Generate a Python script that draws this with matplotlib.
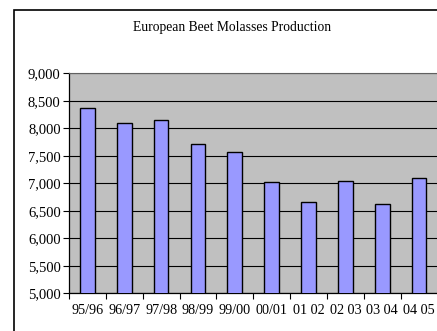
import numpy as np
import matplotlib.pyplot as plt
from matplotlib.patches import Rectangle

seasons = ["95/96", "96/97", "97/98", "98/99", "99/00",
           "00/01", "01 02", "02 03", "03 04", "04 05"]
production = [8375, 8090, 8150, 7720, 7565, 7020, 6665, 7040, 6620, 7100]

plt.rcParams["font.family"] = ["Liberation Serif", "DejaVu Serif"]

fig = plt.figure(figsize=(4.37, 3.31), dpi=100)
fig.patch.set_facecolor("white")

# chart border (runs off the right and bottom)
fig.add_artist(Rectangle((14 / 437, -0.1), 1.2, (331 - 10) / 331 + 0.1,
                         transform=fig.transFigure, fill=False,
                         edgecolor="black", lw=1.2, clip_on=False))

ax = fig.add_axes([69 / 437, (331 - 293.3) / 331,
                   (437.5 - 69) / 437, (293.3 - 73.3) / 331])
ax.set_facecolor("#c0c0c0")

x = np.arange(len(seasons))
ax.bar(x, production, width=0.4, color="#9999ff", edgecolor="black",
       linewidth=1.0, zorder=3)

ax.set_ylim(5000, 9000)
ax.set_xlim(-0.5, len(seasons) - 0.5)
ax.set_yticks(np.arange(5000, 9001, 500))
ax.set_yticklabels([f"{v:,}" for v in range(5000, 9001, 500)], fontsize=10.5)
ax.yaxis.grid(True, color="black", lw=0.8, zorder=1)

# ticks sit between categories, labels under the bars
ax.set_xticks(np.arange(-0.5, len(seasons), 1))
ax.set_xticklabels([])
ax.set_xticks(x, minor=True)
ax.set_xticklabels(seasons, minor=True, fontsize=10.2)
ax.tick_params(axis="x", which="major", length=4, width=0.8, direction="out")
ax.tick_params(axis="x", which="minor", length=0, pad=8)
ax.tick_params(axis="y", length=4, width=0.8, direction="out", pad=2)

for side in ["left", "bottom"]:
    ax.spines[side].set_linewidth(0.9)
ax.spines["top"].set_color("#606060")
ax.spines["right"].set_visible(False)

fig.text(232 / 437, 1 - 28 / 331, "European Beet Molasses Production",
         ha="center", va="center", fontsize=9.8)

fig.savefig("out.png", dpi=100)
